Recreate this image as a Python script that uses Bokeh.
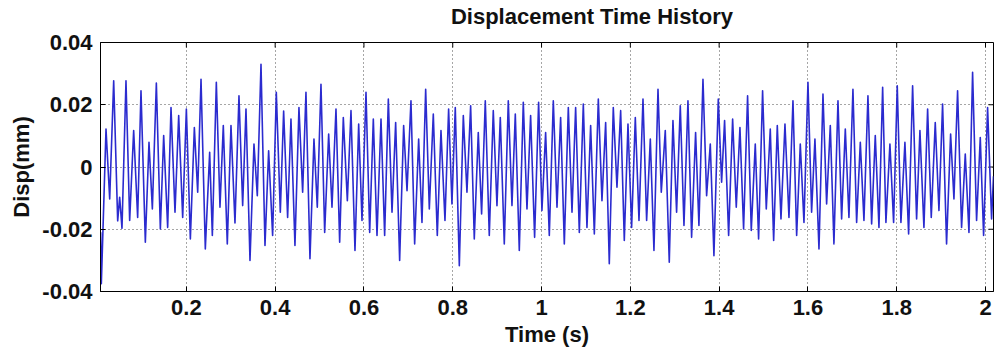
from bokeh.plotting import figure
from bokeh.layouts import column
from bokeh.models import FixedTicker, ColumnDataSource, Label
from bokeh.embed import file_html
from bokeh.resources import INLINE
import math

# Displacement record: successive turning points (time in s, displacement in mm)
time_s = [
    0.0070, 0.0085, 0.0190, 0.0273, 0.0363, 0.0453, 0.0498, 0.0550, 0.0640, 0.0723,
    0.0813, 0.0903, 0.0978, 0.1076, 0.1158, 0.1234, 0.1324, 0.1414, 0.1489, 0.1579,
    0.1654, 0.1744, 0.1827, 0.1917, 0.2000, 0.2090, 0.2180, 0.2255, 0.2330, 0.2427,
    0.2525,
    0.2585, 0.2675, 0.2757, 0.2832, 0.2922, 0.3005, 0.3095, 0.3185, 0.3268, 0.3343,
    0.3433, 0.3523, 0.3598, 0.3681, 0.3771, 0.3853, 0.3943, 0.4026, 0.4116, 0.4191,
    0.4281, 0.4356, 0.4446, 0.4536, 0.4619, 0.4694, 0.4784, 0.4874, 0.4949, 0.5032,
    0.5115, 0.5205, 0.5280, 0.5370, 0.5453, 0.5535, 0.5626, 0.5708, 0.5798, 0.5881,
    0.5956, 0.6046, 0.6129, 0.6211, 0.6294, 0.6384, 0.6466, 0.6549, 0.6632, 0.6714,
    0.6804, 0.6894, 0.6970, 0.7059, 0.7142, 0.7232, 0.7307, 0.7390, 0.7472, 0.7562,
    0.7652, 0.7735, 0.7825, 0.7907, 0.7982, 0.8057, 0.8148, 0.8238, 0.8320, 0.8403,
    0.8485, 0.8575, 0.8650, 0.8733, 0.8823, 0.8913, 0.8996, 0.9071, 0.9161, 0.9251,
    0.9334, 0.9409, 0.9499, 0.9589, 0.9672, 0.9754, 0.9844, 0.9934, 1.0009, 1.0092,
    1.0175, 1.0265, 1.0348, 1.0430, 1.0513, 1.0603, 1.0686, 1.0768, 1.0851, 1.0941,
    1.1023, 1.1106, 1.1189, 1.1279, 1.1361, 1.1444, 1.1526, 1.1616, 1.1699, 1.1782,
    1.1864, 1.1947, 1.2029, 1.2112, 1.2195, 1.2285, 1.2367, 1.2450, 1.2532, 1.2623,
    1.2697, 1.2787, 1.2877, 1.2960, 1.3042, 1.3125, 1.3208, 1.3298, 1.3380, 1.3470,
    1.3545, 1.3636, 1.3718, 1.3801, 1.3883, 1.3981, 1.4056, 1.4123, 1.4214, 1.4304,
    1.4386, 1.4469, 1.4551, 1.4641, 1.4724, 1.4814, 1.4889, 1.4979, 1.5062, 1.5152,
    1.5228, 1.5310, 1.5393, 1.5483, 1.5573, 1.5663, 1.5746, 1.5828, 1.5911, 1.6001,
    1.6083, 1.6158, 1.6249, 1.6339, 1.6421, 1.6504, 1.6586, 1.6677, 1.6759, 1.6842,
    1.6924, 1.7014, 1.7097, 1.7180, 1.7262, 1.7352, 1.7435, 1.7517, 1.7600, 1.7683,
    1.7757, 1.7847, 1.7930, 1.8012, 1.8095, 1.8185, 1.8268, 1.8358, 1.8448, 1.8523,
    1.8613, 1.8696, 1.8778, 1.8868, 1.8951, 1.9033, 1.9123, 1.9214, 1.9289, 1.9371,
    1.9461, 1.9544, 1.9627, 1.9709, 1.9799, 1.9882, 1.9957, 2.0047, 2.0137, 2.0180,
]
disp_mm = [
    -0.0210, -0.0375, 0.0122, -0.0103, 0.0277, -0.0173, -0.0097, -0.0197, 0.0277, -0.0172,
    0.0117, -0.0162, 0.0245, -0.0242, 0.0079, -0.0135, 0.0270, -0.0199, 0.0101, -0.0194,
    0.0191, -0.0145, 0.0165, -0.0162, 0.0186, -0.0231, 0.0127, -0.0081, 0.0282, -0.0263,
    0.0047,
    -0.0220, 0.0272, -0.0129, 0.0133, -0.0247, 0.0133, -0.0180, 0.0229, -0.0124, 0.0186,
    -0.0300, 0.0074, -0.0092, 0.0330, -0.0252, 0.0052, -0.0220, 0.0240, -0.0145, 0.0180,
    -0.0162, 0.0154, -0.0252, 0.0191, -0.0081, 0.0240, -0.0295, 0.0090, -0.0129, 0.0266,
    -0.0210, 0.0106, -0.0129, 0.0186, -0.0242, 0.0159, -0.0108, 0.0181, -0.0268, 0.0138,
    -0.0172, 0.0240, -0.0210, 0.0154, -0.0220, 0.0154, -0.0220, 0.0218, -0.0145, 0.0143,
    -0.0300, 0.0133, -0.0076, 0.0213, -0.0247, 0.0090, -0.0178, 0.0250, -0.0135, 0.0170,
    -0.0220, 0.0117, -0.0172, 0.0186, -0.0119, 0.0191, -0.0317, 0.0165, -0.0081, 0.0197,
    -0.0231, 0.0111, -0.0151, 0.0213, -0.0220, 0.0181, -0.0124, 0.0159, -0.0247, 0.0213,
    -0.0124, 0.0170, -0.0268, 0.0208, -0.0135, 0.0165, -0.0226, 0.0208, -0.0140, 0.0111,
    -0.0220, 0.0213, -0.0129, 0.0159, -0.0247, 0.0191, -0.0145, 0.0191, -0.0210, 0.0202,
    -0.0194, 0.0133, -0.0215, 0.0218, -0.0108, 0.0143, -0.0311, 0.0191, -0.0065, 0.0181,
    -0.0236, 0.0138, -0.0194, 0.0159, -0.0172, 0.0218, -0.0172, 0.0090, -0.0268, 0.0250,
    -0.0081, 0.0117, -0.0306, 0.0149, -0.0145, 0.0197, -0.0188, 0.0213, -0.0226, 0.0111,
    -0.0188, 0.0282, -0.0092, 0.0074, -0.0285, 0.0218, -0.0049, 0.0149, -0.0220, 0.0154,
    -0.0129, 0.0127, -0.0199, 0.0229, -0.0204, 0.0074, -0.0231, 0.0245, -0.0135, 0.0122,
    -0.0236, 0.0133, -0.0167, 0.0138, -0.0162, 0.0213, -0.0220, 0.0074, -0.0178, 0.0272,
    -0.0145, 0.0090, -0.0263, 0.0234, -0.0119, 0.0133, -0.0247, 0.0213, -0.0167, 0.0122,
    -0.0162, 0.0250, -0.0178, 0.0079, -0.0172, 0.0229, -0.0183, 0.0101, -0.0194, 0.0256,
    -0.0178, 0.0074, -0.0178, 0.0261, -0.0178, 0.0079, -0.0215, 0.0261, -0.0167, 0.0117,
    -0.0194, 0.0186, -0.0162, 0.0143, -0.0140, 0.0202, -0.0247, 0.0106, -0.0103, 0.0245,
    -0.0194, 0.0042, -0.0210, 0.0304, -0.0172, 0.0095, -0.0220, 0.0191, -0.0167, -0.0030,
]

x_ticks = [0.2, 0.4, 0.6, 0.8, 1.0, 1.2, 1.4, 1.6, 1.8, 2.0]
x_tick_labels = ["0.2", "0.4", "0.6", "0.8", "1", "1.2", "1.4", "1.6", "1.8", "2"]
y_ticks = [-0.04, -0.02, 0.0, 0.02, 0.04]
y_tick_labels = ["-0.04", "-0.02", "0", "0.02", "0.04"]

X_MIN, X_MAX = 0.0066, 2.018
Y_MIN, Y_MAX = -0.04, 0.04

FONT = "Liberation Sans"
WIDTH = 994
TITLE_H = 30

# title strip: a bare figure whose frame fills it, in pixel coordinates
head = figure(
    width=WIDTH, height=TITLE_H,
    x_range=(0, WIDTH), y_range=(0, TITLE_H),
    output_backend="svg", toolbar_location=None,
    min_border=0, outline_line_color=None,
)
head.axis.visible = False
head.grid.visible = False
head.background_fill_color = "white"
head.border_fill_color = "white"
head.add_layout(Label(
    x=(100 + WIDTH) / 2, y=TITLE_H - 16,
    text="Displacement Time History", text_align="center",
    text_baseline="alphabetic", text_font=FONT, text_font_style="bold",
    text_font_size="22px", text_color="#111111",
))

p = figure(
    width=WIDTH, height=351 - TITLE_H,
    x_range=(X_MIN, X_MAX), y_range=(Y_MIN, Y_MAX),
    output_backend="svg", toolbar_location=None,
    min_border_left=100, min_border_right=1,
    min_border_top=42 - TITLE_H, min_border_bottom=60,
)
p.background_fill_color = "white"
p.border_fill_color = "white"
p.outline_line_color = "black"
p.outline_line_width = 1

# axes
for ax in (p.xaxis[0], p.yaxis[0]):
    ax.major_label_text_font = FONT
    ax.major_label_text_font_style = "bold"
    ax.major_label_text_font_size = "22px"
    ax.major_label_text_color = "#111111"
    ax.axis_label_text_font = FONT
    ax.axis_label_text_font_style = "bold"
    ax.axis_label_text_font_size = "22px"
    ax.axis_label_text_color = "#111111"
    ax.major_tick_in = 5
    ax.major_tick_out = 0
    ax.minor_tick_line_color = None
    ax.axis_line_color = "black"
    ax.major_tick_line_color = "black"

p.xaxis.ticker = FixedTicker(ticks=x_ticks)
p.xaxis.major_label_overrides = {t: s for t, s in zip(x_ticks, x_tick_labels)}
p.xaxis.axis_label = "Time (s)"
p.xaxis.major_label_standoff = 8
p.xaxis.axis_label_standoff = 4

p.yaxis.ticker = FixedTicker(ticks=y_ticks)
p.yaxis.major_label_overrides = {t: s for t, s in zip(y_ticks, y_tick_labels)}
p.yaxis.axis_label = "Disp(mm)"
p.yaxis.major_label_standoff = 8
p.yaxis.axis_label_standoff = 5

# dotted grid
p.xgrid.ticker = FixedTicker(ticks=x_ticks)
p.ygrid.ticker = FixedTicker(ticks=y_ticks)
for g in (p.xgrid[0], p.ygrid[0]):
    g.grid_line_color = "#222222"
    g.grid_line_dash = "1 3"
    g.grid_line_width = 1
    g.grid_line_alpha = 0.8

# tick marks on the top and right edges of the box
p.ray(x=x_ticks, y=[Y_MAX] * len(x_ticks), length=5, length_units="screen",
      angle=-math.pi / 2, line_color="black", line_width=1)
p.ray(x=[X_MAX] * len(y_ticks), y=y_ticks, length=5, length_units="screen",
      angle=math.pi, line_color="black", line_width=1)

src = ColumnDataSource(data=dict(t=time_s, d=disp_mm))
p.line("t", "d", source=src, line_color="#2b2bcf", line_width=1.6,
       line_join="round")

page = column(head, p, spacing=0)
open("out.html", "w").write(file_html(page, INLINE))
